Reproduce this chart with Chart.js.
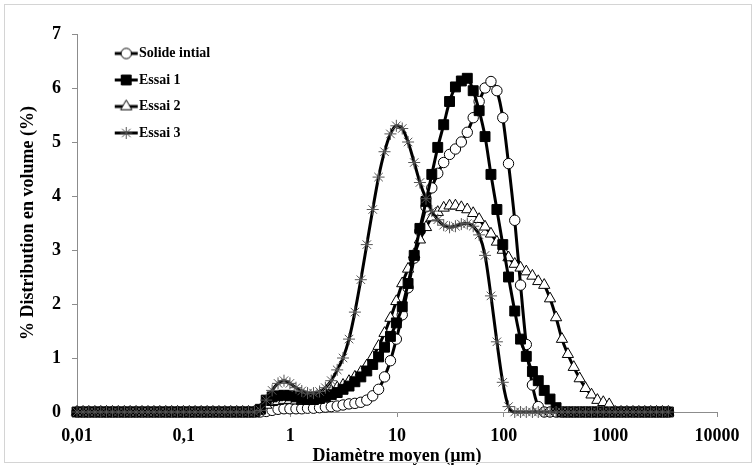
<!DOCTYPE html>
<html>
<head>
<meta charset="utf-8">
<script src="https://cdn.jsdelivr.net/npm/chart.js@4.4.1/dist/chart.umd.min.js"></script>
<style>
  html, body { margin: 0; padding: 0; background: #fff; }
  canvas { display: block; }
</style>
</head>
<body>
<canvas id="psd" width="756" height="467"></canvas>
<script>
// size classes (µm)
const diameters = [
  0.01, 0.0114, 0.0129, 0.0147, 0.0167, 0.0189, 0.0215, 0.0244, 0.0278, 0.0315,
  0.0358, 0.0407, 0.0463, 0.0526, 0.0597, 0.0679, 0.0771, 0.0876, 0.0995, 0.113,
  0.128, 0.146, 0.166, 0.188, 0.214, 0.243, 0.276, 0.314, 0.357, 0.405,
  0.46, 0.523, 0.594, 0.675, 0.767, 0.872, 0.991, 1.13, 1.28, 1.45,
  1.65, 1.88, 2.13, 2.42, 2.75, 3.12, 3.55, 4.03, 4.58, 5.21,
  5.92, 6.72, 7.64, 8.68, 9.86, 11.2, 12.7, 14.5, 16.4, 18.7,
  21.2, 24.1, 27.4, 31.1, 35.3, 40.1, 45.6, 51.8, 58.9, 66.9,
  76, 86.4, 98.1, 111, 127, 144, 163, 186, 211, 240,
  272, 310, 352, 400, 454, 516, 586, 666, 756, 859,
  976, 1110, 1260, 1430, 1630, 1850, 2100, 2390, 2710, 3080,
  3500
];

const solideInitial = [
  0, 0, 0, 0, 0, 0, 0, 0, 0, 0,
  0, 0, 0, 0, 0, 0, 0, 0, 0, 0,
  0, 0, 0, 0, 0, 0, 0, 0, 0, 0,
  0, 0, 0.01, 0.03, 0.05, 0.06, 0.06, 0.06, 0.06, 0.07,
  0.07, 0.08, 0.09, 0.1, 0.11, 0.13, 0.15, 0.16, 0.18, 0.22,
  0.3, 0.42, 0.65, 0.95, 1.35, 1.8, 2.3, 2.85, 3.35, 3.8,
  4.15, 4.42, 4.62, 4.77, 4.87, 5.0, 5.18, 5.45, 5.75, 6.0,
  6.12, 5.95, 5.45, 4.6, 3.55, 2.35, 1.25, 0.5, 0.1, 0,
  0, 0, 0, 0, 0, 0, 0, 0, 0, 0,
  0, 0, 0, 0, 0, 0, 0, 0, 0, 0,
  0
];

const essai1 = [
  0, 0, 0, 0, 0, 0, 0, 0, 0, 0,
  0, 0, 0, 0, 0, 0, 0, 0, 0, 0,
  0, 0, 0, 0, 0, 0, 0, 0, 0, 0,
  0, 0.05, 0.22, 0.28, 0.3, 0.31, 0.3, 0.28, 0.25, 0.23,
  0.23, 0.25, 0.28, 0.32, 0.36, 0.42, 0.48, 0.56, 0.65, 0.76,
  0.88, 1.02, 1.2, 1.4, 1.65, 1.95, 2.38, 2.9, 3.4, 3.9,
  4.4, 4.9, 5.32, 5.75, 6.02, 6.13, 6.18, 5.95, 5.58, 5.1,
  4.4, 3.75, 3.1, 2.5, 1.87, 1.35, 1.03, 0.75, 0.58, 0.4,
  0.24, 0.08, 0, 0, 0, 0, 0, 0, 0, 0,
  0, 0, 0, 0, 0, 0, 0, 0, 0, 0,
  0
];

const essai2 = [
  0, 0, 0, 0, 0, 0, 0, 0, 0, 0,
  0, 0, 0, 0, 0, 0, 0, 0, 0, 0,
  0, 0, 0, 0, 0, 0, 0, 0, 0, 0,
  0, 0.04, 0.13, 0.18, 0.2, 0.22, 0.22, 0.21, 0.2, 0.21,
  0.24, 0.28, 0.33, 0.39, 0.45, 0.5, 0.57, 0.65, 0.74, 0.86,
  1.02, 1.22, 1.46, 1.74, 2.05, 2.38, 2.65, 2.92, 3.19, 3.42,
  3.6, 3.7, 3.78, 3.82, 3.82, 3.79, 3.75, 3.68, 3.57, 3.43,
  3.3, 3.15, 3.0, 2.86, 2.74, 2.67, 2.6, 2.52, 2.42, 2.35,
  2.1, 1.75, 1.35, 1.07, 0.83, 0.62, 0.44, 0.32, 0.22, 0.18,
  0.14, 0, 0, 0, 0, 0, 0, 0, 0, 0,
  0
];

const essai3 = [
  0, 0, 0, 0, 0, 0, 0, 0, 0, 0,
  0, 0, 0, 0, 0, 0, 0, 0, 0, 0,
  0, 0, 0, 0, 0, 0, 0, 0, 0, 0,
  0, 0.03, 0.22, 0.4, 0.53, 0.58, 0.53, 0.45, 0.39, 0.35,
  0.35, 0.38, 0.45, 0.58, 0.78, 1.0, 1.35, 1.85, 2.45, 3.1,
  3.75, 4.35, 4.82, 5.15, 5.3, 5.25, 5.0, 4.62, 4.25, 3.95,
  3.72, 3.56, 3.46, 3.42, 3.44, 3.48, 3.49, 3.44, 3.28, 2.9,
  2.15, 1.3, 0.55, 0.1, 0, 0, 0, 0, 0, 0,
  0, 0, 0, 0, 0, 0, 0, 0, 0, 0,
  0, 0, 0, 0, 0, 0, 0, 0, 0, 0,
  0
];

const seriesNames = ['Solide intial', 'Essai 1', 'Essai 2', 'Essai 3'];
const tickValues = [0.01, 0.1, 1, 10, 100, 1000, 10000];
const tickLabels = ['0,01', '0,1', '1', '10', '100', '1000', '10000'];

const serif = "'Liberation Serif', 'Times New Roman', serif";
const axisGrey = '#8c8c8c';

// drawing order: lower number ends up on top (stars, then squares)
const markers = [
  { pointStyle: 'circle', radius: 5.2, fill: '#fff', stroke: '#000', order: 3 },
  { pointStyle: 'rect', radius: 7, fill: '#000', stroke: '#000', order: 1 },
  { pointStyle: 'triangle', radius: 6.5, fill: '#fff', stroke: '#000', order: 2 },
  { pointStyle: 'star', radius: 6, fill: '#fff', stroke: '#555', order: 0 }
];

// small "-o-" icon for the legend, like the Excel one
function legendIcon(m) {
  const c = document.createElement('canvas');
  c.width = 64;
  c.height = 16;
  const g = c.getContext('2d');
  g.strokeStyle = '#000';
  g.lineWidth = 3;
  g.beginPath();
  g.moveTo(36, 8);
  g.lineTo(59, 8);
  g.stroke();
  g.fillStyle = m.fill;
  g.strokeStyle = m.stroke;
  g.lineWidth = 1;
  Chart.helpers.drawPoint(g, { pointStyle: m.pointStyle, radius: m.radius, borderWidth: 1, rotation: 0 }, 47.5, 8);
  return c;
}
const icons = markers.map(legendIcon);

const toPoints = vals => vals.map((v, i) => ({ x: diameters[i], y: v }));

const datasets = [solideInitial, essai1, essai2, essai3].map((vals, i) => ({
  label: seriesNames[i],
  data: toPoints(vals),
  borderColor: '#000',
  borderWidth: 3,
  pointStyle: markers[i].pointStyle,
  pointRadius: markers[i].radius,
  pointBackgroundColor: markers[i].fill,
  pointBorderColor: markers[i].stroke,
  pointBorderWidth: 1,
  cubicInterpolationMode: 'monotone',
  clip: false,
  order: markers[i].order
}));

const frame = {
  id: 'frame',
  beforeDraw(chart) {
    const c = chart.ctx;
    c.save();
    c.fillStyle = '#fff';
    c.fillRect(0, 0, chart.width, chart.height);
    c.restore();
  },
  afterLayout(chart) {
    // keep the legend box in the top-left corner of the plot area
    const lg = chart.legend;
    if (!lg) return;
    const h = lg.height;
    lg.top = chart.chartArea.top;
    lg.bottom = lg.top + h;
  },
  afterDraw(chart) {
    const c = chart.ctx;
    c.save();
    c.strokeStyle = '#d4d4d4';
    c.lineWidth = 1;
    c.strokeRect(4.5, 4.5, chart.width - 9, chart.height - 9);
    c.restore();
  }
};

const tickFont = { family: serif, size: 18, weight: 'bold' };

new Chart(document.getElementById('psd'), {
  type: 'line',
  data: { datasets },
  options: {
    responsive: false,
    animation: false,
    layout: { padding: { left: 5, right: 39, top: 34, bottom: 0 } },
    plugins: {
      tooltip: { enabled: false },
      legend: {
        position: 'chartArea',
        align: 'start',
        labels: {
          usePointStyle: true,
          pointStyleWidth: 42.5,
          padding: 12.5,
          color: '#000',
          font: { family: serif, size: 14, weight: 'bold' },
          sort: (a, b) => a.datasetIndex - b.datasetIndex,
          generateLabels: chart => Chart.defaults.plugins.legend.labels.generateLabels(chart)
            .map(item => Object.assign(item, { pointStyle: icons[item.datasetIndex] }))
        }
      }
    },
    scales: {
      x: {
        type: 'logarithmic',
        min: 0.01,
        max: 10000,
        afterBuildTicks: s => { s.ticks = tickValues.map(v => ({ value: v })); },
        afterFit: s => { s.height = 55; },
        ticks: {
          autoSkip: false,
          maxRotation: 0,
          padding: 9,
          color: '#000',
          font: tickFont,
          callback: (v, i) => tickLabels[i]
        },
        grid: { drawOnChartArea: false, drawTicks: true, tickLength: 5, color: axisGrey },
        border: { color: axisGrey, width: 1 },
        title: {
          display: true,
          text: 'Diamètre moyen (µm)',
          color: '#000',
          font: tickFont,
          padding: { top: 0, bottom: 0 }
        }
      },
      y: {
        min: 0,
        max: 7,
        afterFit: s => { s.width = 72; },
        ticks: { stepSize: 1, padding: 11, color: '#000', font: tickFont },
        grid: { drawOnChartArea: false, drawTicks: true, tickLength: 5, color: axisGrey },
        border: { color: axisGrey, width: 1 },
        title: {
          display: true,
          text: '% Distribution en volume (%)',
          color: '#000',
          font: tickFont,
          padding: { top: 13, bottom: 0 }
        }
      }
    }
  },
  plugins: [frame]
});
</script>
</body>
</html>
